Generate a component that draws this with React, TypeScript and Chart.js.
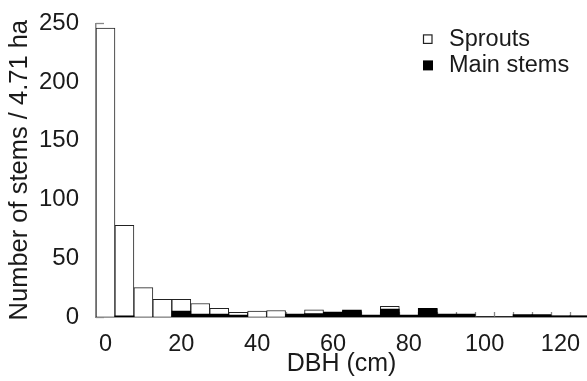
import React, { useEffect, useRef } from "react";
import { Chart, registerables } from "chart.js";

Chart.register(...registerables);

// DBH bin centres (cm), 5 cm classes
const DBH_BINS = [0, 5, 10, 15, 20, 25, 30, 35, 40, 45, 50, 55, 60, 65, 70, 75, 80, 85, 90, 95, 100, 105, 110, 115, 120, 125];
// Number of stems per 4.71 ha
const SPROUTS = [246, 78, 25, 15, 15, 11.5, 7.3, 4, 5, 5.5, 2, 6, 3.5, 5, 1.5, 9, 1.5, 6.5, 2, 2, 0, 0, 1.5, 1.5, 1, 1];
const MAIN_STEMS = [0, 1, 0, 0, 5, 2.5, 2.5, 1.7, 0, 0, 2.5, 3, 4.2, 5.9, 1.7, 6.7, 1.7, 7.3, 2.5, 2.5, 0, 0, 2, 2, 1, 1];
const Y_TICKS = [0, 50, 100, 150, 200, 250];
const X_TICKS = [0, 20, 40, 60, 80, 100, 120];
const LEGEND_LABELS = ["Sprouts", "Main stems"];

const FONT = "Liberation Sans, Arial, Helvetica, sans-serif";
const TEXT = "#1a1a1a";

const innerTicks = {
  id: "innerTicks",
  beforeDatasetsDraw(chart: any) {
    const { ctx, chartArea, scales } = chart;
    ctx.save();
    ctx.strokeStyle = "#888";
    ctx.lineWidth = 1.3;
    Y_TICKS.forEach((v) => {
      const y = Math.round(scales.y.getPixelForValue(v)) + 0.5;
      ctx.beginPath();
      ctx.moveTo(chartArea.left, y);
      ctx.lineTo(chartArea.left + 8, y);
      ctx.stroke();
    });
    DBH_BINS.forEach((c) => {
      const x = Math.round(scales.x.getPixelForValue(c - 2.5)) + 0.5;
      ctx.beginPath();
      ctx.moveTo(x, chartArea.bottom);
      ctx.lineTo(x, chartArea.bottom - 5);
      ctx.stroke();
    });
    ctx.restore();
  },
};

const boxLegend = {
  id: "boxLegend",
  afterDraw(chart: any) {
    const { ctx, chartArea } = chart;
    ctx.save();
    ctx.font = `23.5px ${FONT}`;
    ctx.textBaseline = "middle";
    const bx = chartArea.right - 164;
    const rows = [chartArea.top + 15.5, chartArea.top + 41.5];
    LEGEND_LABELS.forEach((label, i) => {
      const y = rows[i];
      if (i === 0) {
        ctx.fillStyle = "#fff";
        ctx.fillRect(bx, y - 4.5, 9, 9);
        ctx.strokeStyle = "#222";
        ctx.lineWidth = 1.2;
        ctx.strokeRect(bx + 0.5, y - 4, 8.5, 8.5);
      } else {
        ctx.fillStyle = "#000";
        ctx.fillRect(bx, y - 4.5, 10, 10);
      }
      ctx.fillStyle = TEXT;
      ctx.fillText(label, bx + 26, y + 1);
    });
    ctx.restore();
  },
};

export default function App() {
  const ref = useRef<HTMLCanvasElement | null>(null);

  useEffect(() => {
    if (!ref.current) return;
    const chart = new Chart(ref.current, {
      type: "bar",
      data: {
        datasets: [
          {
            label: LEGEND_LABELS[0],
            data: DBH_BINS.map((x, i) => ({ x, y: SPROUTS[i] })),
            backgroundColor: "#ffffff",
            borderColor: "#222",
            borderWidth: 1,
            borderSkipped: "start",
            order: 1,
            grouped: false,
            barPercentage: 1,
            categoryPercentage: 1,
          } as any,
          {
            label: LEGEND_LABELS[1],
            data: DBH_BINS.map((x, i) => ({ x, y: MAIN_STEMS[i] })),
            backgroundColor: "#000000",
            borderWidth: 0,
            order: 0,
            grouped: false,
            barPercentage: 1,
            categoryPercentage: 1,
          } as any,
        ],
      },
      options: {
        animation: false,
        responsive: false,
        maintainAspectRatio: false,
        devicePixelRatio: 1,
        layout: { padding: { top: 19, left: 0, right: 0, bottom: 0 } },
        plugins: { legend: { display: false }, tooltip: { enabled: false } },
        scales: {
          x: {
            type: "linear",
            min: -2.5,
            max: 127,
            offset: false,
            grid: { display: false },
            border: { display: true, color: "#333", width: 1.5 },
            afterBuildTicks: (axis: any) => {
              axis.ticks = X_TICKS.map((v) => ({ value: v }));
            },
            ticks: {
              font: { family: FONT, size: 23.5 },
              color: TEXT,
              padding: 5,
              maxRotation: 0,
              autoSkip: false,
            },
            title: {
              display: true,
              text: "DBH (cm)",
              font: { family: FONT, size: 25 },
              color: TEXT,
              padding: { top: 0, bottom: 2 },
            },
            afterFit: (s: any) => {
              s.height = 64;
            },
          },
          y: {
            type: "linear",
            min: 0,
            max: 250,
            grid: { display: false },
            border: { display: true, color: "#888", width: 1.5 },
            afterBuildTicks: (axis: any) => {
              axis.ticks = Y_TICKS.map((v) => ({ value: v }));
            },
            ticks: {
              font: { family: FONT, size: 24 },
              color: TEXT,
              padding: 9,
            },
            title: {
              display: true,
              text: "Number of stems / 4.71 ha",
              font: { family: FONT, size: 25.5 },
              color: TEXT,
              padding: { top: 5, bottom: 0 },
            },
            afterFit: (s: any) => {
              s.width = 96;
            },
          },
        },
      },
      plugins: [innerTicks, boxLegend],
    } as any);
    return () => chart.destroy();
  }, []);

  return (
    <div style={{ position: "fixed", left: 0, top: 0, width: 587, height: 381, background: "#fff" }}>
      <canvas ref={ref} width={587} height={381} style={{ display: "block", width: 587, height: 381 }} />
    </div>
  );
}
